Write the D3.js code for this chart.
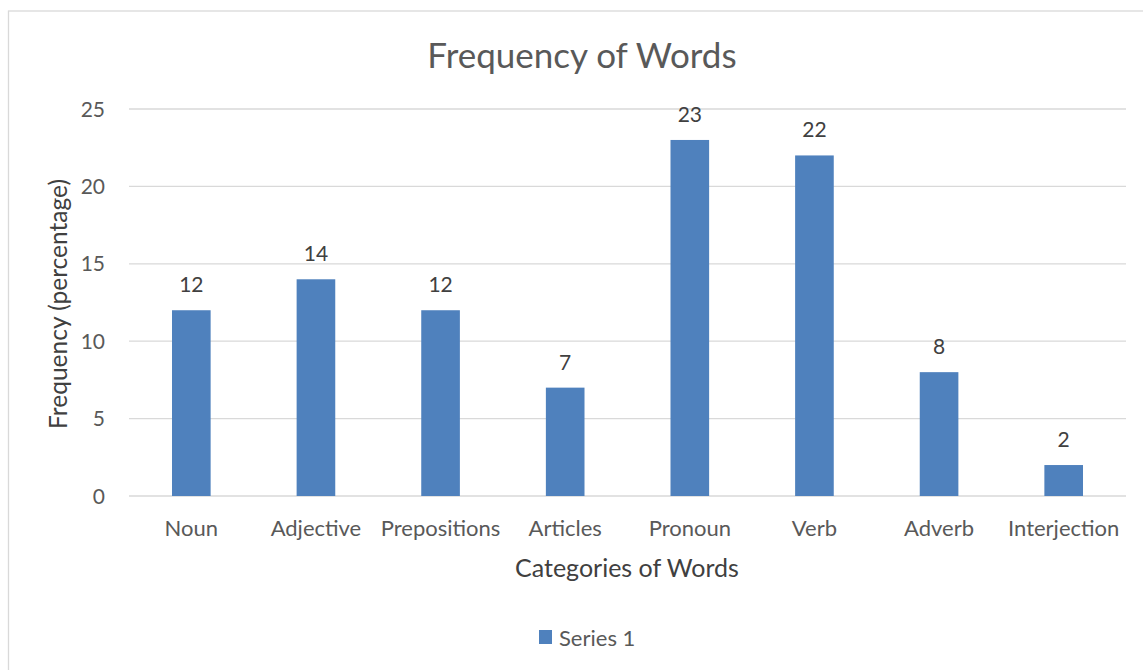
<!DOCTYPE html>
<html><head><meta charset="utf-8">
<script src="https://cdn.jsdelivr.net/npm/d3@7"></script>
<style>body{margin:0;background:#fff;} text{font-family:Lato,"Open Sans",sans-serif;}</style>
</head><body>
<svg id="c" width="1143" height="670"></svg>
<script>
const categories = ["Noun","Adjective","Prepositions","Articles","Pronoun","Verb","Adverb","Interjection"];
const values = [12,14,12,7,23,22,8,2];
const yTicks = [0,5,10,15,20,25];
const seriesName = "Series 1";
const chartTitle = "Frequency of Words";
const xTitle = "Categories of Words";
const yTitle = "Frequency (percentage)";

const svg = d3.select("#c");
svg.append("rect").attr("x",8.5).attr("y",11).attr("width",1145).attr("height",700)
  .attr("fill","#fff").attr("stroke","#d9d9d9").attr("stroke-width",1.3);

const x = d3.scaleBand().domain(categories).range([129,1126]).paddingInner(0).paddingOuter(0);
const y = d3.scaleLinear().domain([0,25]).range([496,109]);

svg.append("g").selectAll("line").data(yTicks).join("line")
  .attr("x1",129).attr("x2",1126).attr("y1",d=>y(d)).attr("y2",d=>y(d))
  .attr("stroke","#d9d9d9").attr("stroke-width",1.3);

svg.append("g").selectAll("text").data(yTicks).join("text")
  .attr("x",105).attr("y",d=>y(d)+7.5).attr("text-anchor","end")
  .attr("fill","#595959").attr("font-size",21).text(d=>d);

const bw = x.bandwidth()*0.31;
svg.append("g").selectAll("rect").data(values).join("rect")
  .attr("x",(d,i)=>x(categories[i])+x.bandwidth()/2-bw/2)
  .attr("y",d=>y(d)).attr("width",bw).attr("height",d=>y(0)-y(d))
  .attr("fill","#4f81bd");

svg.append("g").selectAll("text").data(values).join("text")
  .attr("x",(d,i)=>x(categories[i])+x.bandwidth()/2).attr("y",d=>y(d)-18)
  .attr("text-anchor","middle").attr("fill","#404040").attr("font-size",21).text(d=>d);

svg.append("g").selectAll("text").data(categories).join("text")
  .attr("x",d=>x(d)+x.bandwidth()/2).attr("y",536).attr("text-anchor","middle")
  .attr("fill","#595959").attr("font-size",22).text(d=>d);

svg.append("text").attr("x",582).attr("y",67.5).attr("text-anchor","middle")
  .attr("fill","#595959").attr("font-size",35).text(chartTitle);

svg.append("text").attr("x",627).attr("y",577).attr("text-anchor","middle")
  .attr("fill","#404040").attr("font-size",25).text(xTitle);

svg.append("text").attr("transform","translate(67,304) rotate(-90)").attr("text-anchor","middle")
  .attr("fill","#404040").attr("font-size",24.5).text(yTitle);

svg.append("rect").attr("x",539).attr("y",630).attr("width",13).attr("height",14).attr("fill","#4f81bd");
svg.append("text").attr("x",559).attr("y",646).attr("fill","#595959").attr("font-size",22).text(seriesName);
</script>
</body></html>
